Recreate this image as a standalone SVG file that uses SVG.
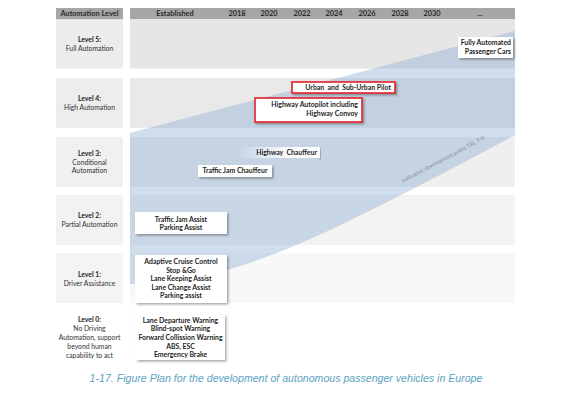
<svg xmlns="http://www.w3.org/2000/svg" width="578" height="393" viewBox="0 0 578 393">
<style>
text{font-family:Lato,"Liberation Sans",sans-serif;fill:#1e1e1e}
.h{font-size:7.4px;font-weight:bold;fill:#2b2b2b;text-anchor:middle}
.lv{font-size:6.8px;font-weight:bold;text-anchor:middle}
.ld{font-size:6.8px;text-anchor:middle;fill:#333}
.b{font-size:6.9px;font-weight:bold}
.c{text-anchor:middle}
.r{text-anchor:end}
.box{fill:#fff;filter:url(#sh)}
.red{fill:#fff;stroke:#e2202a;stroke-width:1.6;filter:url(#sh)}
</style>
<defs>
<filter id="sh" x="-20%" y="-40%" width="140%" height="180%">
<feDropShadow dx="1.5" dy="1.5" stdDeviation="1" flood-color="#000" flood-opacity="0.35"/>
</filter>
<linearGradient id="fade" x1="0" y1="0" x2="1" y2="0">
<stop offset="0" stop-color="#fff" stop-opacity="0"/>
<stop offset="0.6" stop-color="#fff" stop-opacity="0.9"/>
<stop offset="1" stop-color="#fff"/>
</linearGradient>
</defs>
<rect width="578" height="393" fill="#fff"/>
<!-- header -->
<g id="header">
<rect x="56" y="8" width="67" height="11.3" fill="#a6a6a6"/>
<rect x="130" y="8" width="385" height="11.3" fill="#a6a6a6"/>
<text class="h" x="89.5" y="16.4">Automation Level</text>
<text class="h" x="175" y="16.4">Established</text>
<text class="h" x="237" y="16.4">2018</text>
<text class="h" x="269" y="16.4">2020</text>
<text class="h" x="302" y="16.4">2022</text>
<text class="h" x="334" y="16.4">2024</text>
<text class="h" x="367" y="16.4">2026</text>
<text class="h" x="400" y="16.4">2028</text>
<text class="h" x="432" y="16.4">2030</text>
<text class="h" x="480" y="16.4">...</text>
</g>
<!-- row backgrounds -->
<g id="rows">
<rect x="56" y="20" width="67" height="48.5" fill="#ececec"/>
<rect x="130" y="20" width="385" height="48.5" fill="#e6e6e6"/>
<rect x="56" y="78" width="67" height="50" fill="#ededed"/>
<rect x="130" y="78" width="385" height="50" fill="#e9e9e9"/>
<rect x="56" y="137" width="67" height="50" fill="#f0f0f0"/>
<rect x="130" y="137" width="385" height="50" fill="#efefef"/>
<rect x="56" y="195" width="67" height="50" fill="#f2f2f2"/>
<rect x="130" y="195" width="385" height="50" fill="#f3f3f3"/>
<rect x="56" y="253" width="67" height="50" fill="#f4f4f4"/>
<rect x="130" y="253" width="385" height="50" fill="#f8f8f8"/>
</g>
<!-- development wedge -->
<g id="wedge">
<path d="M130,133 L515,31 L515,135 C300,250 230,282 130,284 Z" fill="#8aabd0" fill-opacity="0.4"/>
<text x="444" y="161" transform="rotate(-28 444 161)" text-anchor="middle" style="font-size:5.6px;fill:#8591a0">Indicative development paths TRL 7-9</text>
</g>
<!-- level labels -->
<g id="level5"><text class="lv" x="89.5" y="42">Level 5:</text><text class="ld" x="89.5" y="51">Full Automation</text></g>
<g id="level4"><text class="lv" x="89.5" y="101">Level 4:</text><text class="ld" x="89.5" y="110">High Automation</text></g>
<g id="level3"><text class="lv" x="89.5" y="155.5">Level 3:</text><text class="ld" x="89.5" y="164.5">Conditional</text><text class="ld" x="89.5" y="173">Automation</text></g>
<g id="level2"><text class="lv" x="89.5" y="218">Level 2:</text><text class="ld" x="89.5" y="226.5">Partial Automation</text></g>
<g id="level1"><text class="lv" x="89.5" y="277">Level 1:</text><text class="ld" x="89.5" y="285.5">Driver Assistance</text></g>
<g id="level0"><text class="lv" x="89.5" y="322">Level 0:</text><text class="ld" x="89.5" y="331">No Driving</text><text class="ld" x="89.5" y="340">Automation, support</text><text class="ld" x="89.5" y="349">beyond human</text><text class="ld" x="89.5" y="357.5">capability to act</text></g>
<!-- feature boxes -->
<g id="fully-automated">
<rect class="box" x="458" y="37" width="55" height="21"/>
<text class="b r" x="511" y="45">Fully Automated</text>
<text class="b r" x="511" y="54">Passenger Cars</text>
</g>
<g id="urban-pilot">
<rect class="red" x="292" y="82" width="103" height="11"/>
<text class="b r" x="391" y="90.3" xml:space="preserve">Urban  and  Sub-Urban Pilot</text>
</g>
<g id="highway-autopilot">
<rect class="red" x="255" y="98" width="107" height="24"/>
<text class="b r" x="358" y="107">Highway Autopilot including</text>
<text class="b r" x="358" y="115.7">Highway Convoy</text>
</g>
<g id="highway-chauffeur">
<rect x="237" y="147" width="83" height="11" fill="url(#fade)"/>
<rect x="318" y="147" width="2" height="11" fill="#fff" filter="url(#sh)"/>
<text class="b r" x="317" y="154.7" xml:space="preserve">Highway  Chauffeur</text>
</g>
<g id="traffic-jam-chauffeur">
<rect class="box" x="198" y="165" width="74" height="12"/>
<text class="b c" x="235" y="173.2">Traffic Jam Chauffeur</text>
</g>
<g id="level2-features">
<rect class="box" x="135" y="212" width="92" height="22"/>
<text class="b c" x="181" y="221.5">Traffic Jam Assist</text>
<text class="b c" x="181" y="230">Parking Assist</text>
</g>
<g id="level1-features">
<rect class="box" x="135" y="255" width="92" height="48"/>
<text class="b c" x="181" y="264">Adaptive Cruise Control</text>
<text class="b c" x="181" y="272.5">Stop &amp;Go</text>
<text class="b c" x="181" y="281">Lane Keeping Assist</text>
<text class="b c" x="181" y="289.5">Lane Change Assist</text>
<text class="b c" x="181" y="298">Parking assist</text>
</g>
<g id="level0-features">
<rect class="box" x="136" y="315" width="89" height="45"/>
<text class="b c" x="180.5" y="322.5">Lane Departure Warning</text>
<text class="b c" x="180.5" y="331">Blind-spot Warning</text>
<text class="b c" x="180.5" y="340">Forward Collission Warning</text>
<text class="b c" x="180.5" y="348.5">ABS, ESC</text>
<text class="b c" x="180.5" y="357">Emergency Brake</text>
</g>
<g id="connectors"></g>
<text x="286" y="381.5" text-anchor="middle" style="font-family:'Liberation Sans',Arial,sans-serif;font-size:10.6px;font-style:italic;fill:#5aa3c2">1-17. Figure Plan for the development of autonomous passenger vehicles in Europe</text>
</svg>
